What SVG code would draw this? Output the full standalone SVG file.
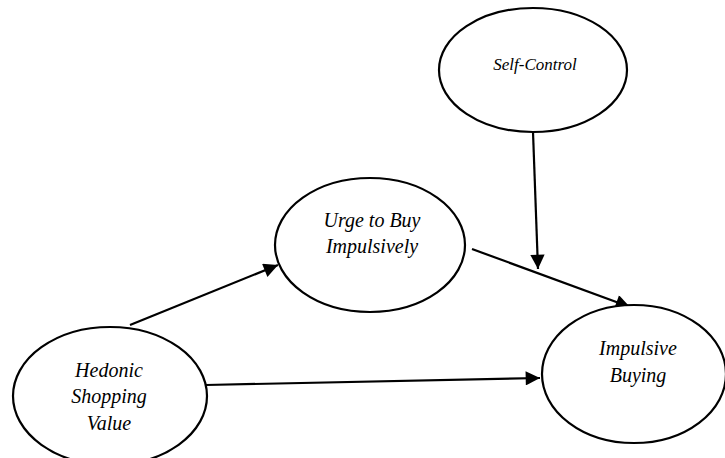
<svg xmlns="http://www.w3.org/2000/svg" width="725" height="458" viewBox="0 0 725 458">
<style>
.node ellipse{fill:#fff;stroke:#000;stroke-width:2.2}
.node text{font-family:"Liberation Serif","Times New Roman",serif;font-style:italic;font-size:20px;fill:#000;text-anchor:middle}
.edge{stroke:#000;stroke-width:2.2;fill:none;marker-end:url(#ah)}
</style>
<defs>
<marker id="ah" viewBox="0 0 10 10" refX="10" refY="5" markerWidth="7.5" markerHeight="6.5" markerUnits="strokeWidth" orient="auto">
<path d="M0,0 L10,5 L0,10 z" fill="#000"/>
</marker>
</defs>
<rect width="725" height="458" fill="#fff"/>
<g id="connectors">
<path class="edge" d="M130,325 L278,265"/>
<path class="edge" d="M206,385 L540,378"/>
<path class="edge" d="M472,249 L630,307"/>
<path class="edge" d="M533,132 L538,269"/>
</g>
<g id="self-control" class="node">
<ellipse cx="533" cy="70" rx="94" ry="62"/>
<text x="535" y="70" style="font-size:17px">Self-Control</text>
</g>
<g id="urge" class="node">
<ellipse cx="370" cy="245" rx="95" ry="67"/>
<text x="372" y="227">Urge to Buy</text>
<text x="372" y="253">Impulsively</text>
</g>
<g id="impulsive-buying" class="node">
<ellipse cx="634" cy="374" rx="92" ry="69"/>
<text x="638" y="355">Impulsive</text>
<text x="638" y="382">Buying</text>
</g>
<g id="hedonic" class="node">
<ellipse cx="110" cy="396" rx="97" ry="69"/>
<text x="109" y="377">Hedonic</text>
<text x="109" y="403">Shopping</text>
<text x="109" y="430">Value</text>
</g>
</svg>
